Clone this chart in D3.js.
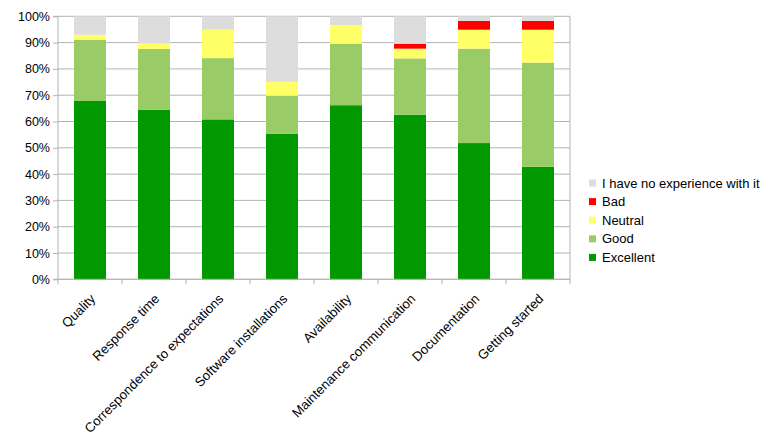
<!DOCTYPE html>
<html><head><meta charset="utf-8">
<script src="https://cdn.jsdelivr.net/npm/d3@7"></script>
<style>body{margin:0;background:#fff;}svg text{font-family:"Liberation Sans",Arial,sans-serif;fill:#000;}</style>
</head><body><svg id="c" width="772" height="441"></svg>
<script>
const categories = ["Quality","Response time","Correspondence to expectations","Software installations","Availability","Maintenance communication","Documentation","Getting started"];
const seriesNames = ["Excellent","Good","Neutral","Bad","I have no experience with it"];
const excellent = [67.8, 64.5, 60.8, 55.4, 66.2, 62.6, 51.8, 42.8];
const good      = [23.2, 23.1, 23.3, 14.4, 23.4, 21.4, 35.9, 39.6];
const neutral   = [2.0, 2.0, 10.8, 5.3, 7.1, 3.7, 7.2, 12.5];
const bad       = [0, 0, 0, 0, 0, 1.9, 3.4, 3.4];
const noExp     = [7.0, 10.4, 5.1, 24.9, 3.3, 10.4, 1.7, 1.7];
const yTicks = [0,10,20,30,40,50,60,70,80,90,100];
const colors = ["#009900","#99cc66","#ffff66","#ff0000","#dddddd"];

const rows = categories.map((c,i)=>({cat:c, "Excellent":excellent[i], "Good":good[i], "Neutral":neutral[i], "Bad":bad[i], "I have no experience with it":noExp[i]}));
const stack = d3.stack().keys(seriesNames)(rows);

const svg = d3.select("#c");
const L=58, R=570, T=16.3, B=279.3;
const x = d3.scaleBand().domain(categories).range([L,R]).paddingInner(0.5).paddingOuter(0.25);
const y = d3.scaleLinear().domain([0,100]).range([B,T]);
const color = d3.scaleOrdinal().domain(seriesNames).range(colors);

// gridlines
svg.append("g").selectAll("line").data(yTicks).join("line")
  .attr("x1",L).attr("x2",R).attr("y1",d=>y(d)).attr("y2",d=>y(d))
  .attr("stroke","#b3b3b3").attr("stroke-width",1);
svg.append("line").attr("x1",R).attr("x2",R).attr("y1",T).attr("y2",B).attr("stroke","#b3b3b3");

// bars
svg.append("g").selectAll("g").data(stack).join("g").attr("fill",d=>color(d.key))
  .selectAll("rect").data(d=>d).join("rect")
  .attr("x",d=>x(d.data.cat)).attr("width",x.bandwidth())
  .attr("y",d=>y(d[1])).attr("height",d=>y(d[0])-y(d[1]));

// y axis
const ya = d3.axisLeft(y).tickValues(yTicks).tickFormat(d=>d+"%").tickSize(5).tickPadding(3);
const gy = svg.append("g").attr("transform",`translate(${L},0)`).call(ya);
gy.select(".domain").attr("stroke","#b3b3b3").attr("d",`M-5,${T}H0V${B}H-5`);
gy.selectAll(".tick line").attr("stroke","#b3b3b3");
gy.selectAll("text").style("font-size","12.5px").attr("fill","#000");

// x axis
const xBoundaries = d3.range(categories.length+1).map(i=>L+i*(R-L)/categories.length);
svg.append("line").attr("x1",L).attr("x2",R).attr("y1",B).attr("y2",B).attr("stroke","#b3b3b3");
svg.append("g").selectAll("line").data(xBoundaries).join("line")
  .attr("x1",d=>d).attr("x2",d=>d).attr("y1",B).attr("y2",B+5).attr("stroke","#b3b3b3");
svg.append("g").selectAll("text").data(categories).join("text")
  .attr("transform",d=>`translate(${x(d)+x.bandwidth()/2+3},${B+17}) rotate(-45)`)
  .attr("text-anchor","end").attr("dy","0.35em").style("font-size","13.2px").text(d=>d);

// legend
const legendItems = seriesNames.slice().reverse();
const lg = svg.append("g").attr("transform","translate(589,183)");
const li = lg.selectAll("g").data(legendItems).join("g").attr("transform",(d,i)=>`translate(0,${i*18.6})`);
li.append("rect").attr("x",0).attr("y",-3.5).attr("width",7).attr("height",7).attr("fill",d=>color(d));
li.append("text").attr("x",13).attr("y",0).attr("dy","0.35em").style("font-size","13px").text(d=>d);
</script></body></html>
